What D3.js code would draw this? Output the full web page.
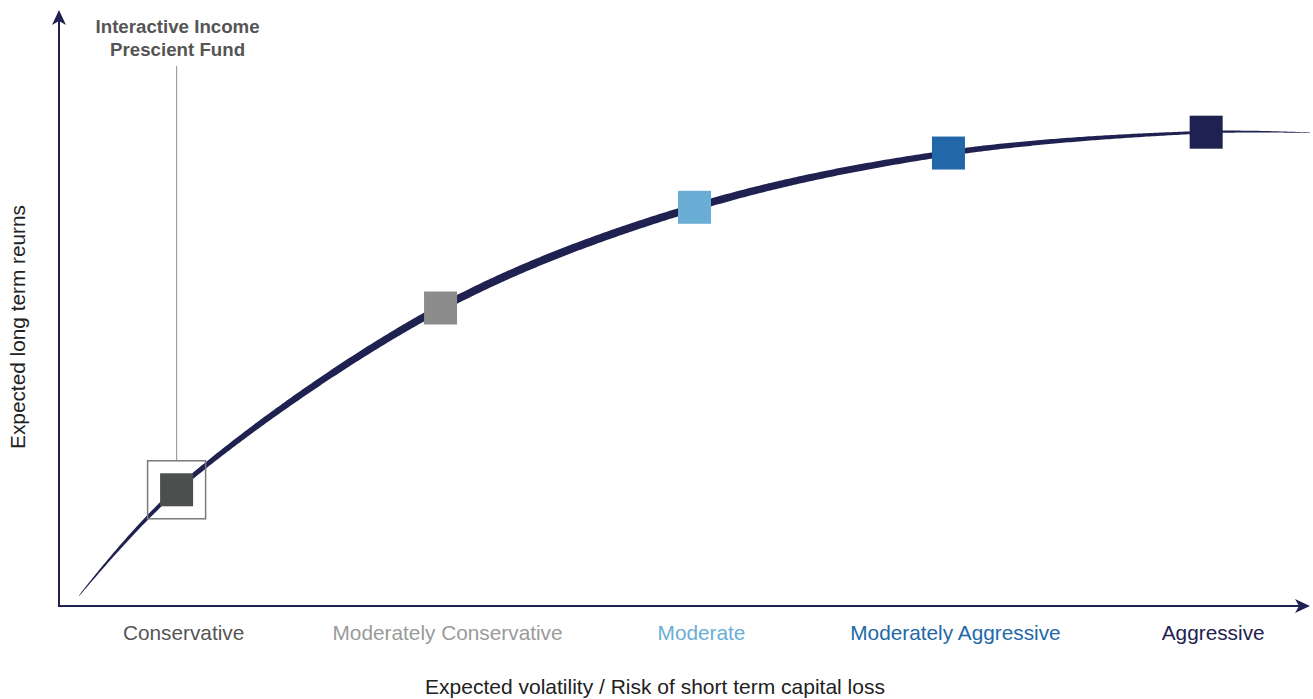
<!DOCTYPE html>
<html>
<head>
<meta charset="utf-8">
<script src="https://cdn.jsdelivr.net/npm/d3@7"></script>
<style>
  html, body { margin: 0; padding: 0; background: #ffffff; }
  svg { display: block; font-family: "Liberation Sans", Arial, sans-serif; }
</style>
</head>
<body>
<svg id="chart" width="1313" height="699"></svg>
<script>
// ---- data ----
const categories = ["Conservative", "Moderately Conservative", "Moderate", "Moderately Aggressive", "Aggressive"];
const categoryColors = ["#4d4f4f", "#8c8c8c", "#6aaed6", "#2268a8", "#1f2150"];
const labelColors = ["#555555", "#9a9a9a", "#6aaed6", "#2268a8", "#1f2150"];
const riskValues = [9.4, 30.5, 50.8, 71.1, 91.7];
const returnValues = [19.5, 50.0, 66.9, 76.0, 79.5];
const curveRisk = [1.6, 9.4, 30.5, 50.8, 71.1, 91.7, 100];
const curveReturn = [1.7, 19.5, 50.0, 66.9, 76.0, 79.5, 79.4];
const fundLabel = ["Interactive Income", "Prescient Fund"];
const highlightIndex = 0;
const xTitle = "Expected volatility / Risk of short term capital loss";
const yTitle = "Expected long term reurns";

// ---- layout ----
const svg = d3.select("#chart");
const x = d3.scaleLinear().domain([0, 100]).range([59, 1310]);
const y = d3.scaleLinear().domain([0, 100]).range([606, 10]);
const navy = "#1f2150";

// axes
svg.append("line").attr("x1", x(0)).attr("y1", y(0)).attr("x2", x(100) - 8).attr("y2", y(0))
  .attr("stroke", navy).attr("stroke-width", 2);
svg.append("line").attr("x1", x(0)).attr("y1", y(0) + 1).attr("x2", x(0)).attr("y2", y(100) + 8)
  .attr("stroke", navy).attr("stroke-width", 2);
// arrow heads
svg.append("path")
  .attr("d", `M${x(100)},${y(0)} L${x(100) - 15},${y(0) - 7} L${x(100) - 11},${y(0)} L${x(100) - 15},${y(0) + 7} Z`)
  .attr("fill", navy);
svg.append("path")
  .attr("d", `M${x(0)},${y(100)} L${x(0) - 7},${y(100) + 15} L${x(0)},${y(100) + 11} L${x(0) + 7},${y(100) + 15} Z`)
  .attr("fill", navy);

// tapered curve
const pts = curveRisk.map((r, i) => [x(r), y(curveReturn[i])]);
const lineGen = d3.line().curve(d3.curveCatmullRom.alpha(0.5));
const tmp = svg.append("path").attr("d", lineGen(pts)).attr("fill", "none").attr("stroke", "none");
const node = tmp.node();
const L = node.getTotalLength();
const N = 500;
const left = [], right = [];
for (let i = 0; i <= N; i++) {
  const t = i / N;
  const p = node.getPointAtLength(t * L);
  const p2 = node.getPointAtLength(Math.min(L, t * L + 0.5));
  const p1 = node.getPointAtLength(Math.max(0, t * L - 0.5));
  let dx = p2.x - p1.x, dy = p2.y - p1.y;
  const len = Math.hypot(dx, dy) || 1;
  dx /= len; dy /= len;
  const w = 0.2 + 3.8 * Math.pow(Math.sin(Math.PI * Math.pow(t, 0.85)), 0.8);
  left.push([p.x - dy * w, p.y + dx * w]);
  right.push([p.x + dy * w, p.y - dx * w]);
}
tmp.remove();
svg.append("path")
  .attr("d", d3.line()(left.concat(right.reverse())) + "Z")
  .attr("fill", navy);

// leader line and highlight box
const hx = x(riskValues[highlightIndex]), hy = y(returnValues[highlightIndex]);
svg.append("line").attr("x1", hx).attr("x2", hx).attr("y1", 66).attr("y2", hy - 29)
  .attr("stroke", "#a0a0a0").attr("stroke-width", 1.2);
svg.append("rect").attr("x", hx - 29).attr("y", hy - 29).attr("width", 58).attr("height", 58)
  .attr("fill", "none").attr("stroke", "#7a7a7a").attr("stroke-width", 1.5);

// markers
const size = 33;
svg.selectAll("rect.marker").data(categories).enter().append("rect")
  .attr("class", "marker")
  .attr("x", (d, i) => x(riskValues[i]) - size / 2)
  .attr("y", (d, i) => y(returnValues[i]) - size / 2)
  .attr("width", size).attr("height", size)
  .attr("fill", (d, i) => categoryColors[i]);

// category labels
svg.selectAll("text.cat").data(categories).enter().append("text")
  .attr("class", "cat")
  .attr("x", (d, i) => x(riskValues[i]) + 7)
  .attr("y", 640)
  .attr("text-anchor", "middle")
  .attr("font-size", 20.8)
  .attr("fill", (d, i) => labelColors[i])
  .text(d => d);

// fund label
svg.selectAll("text.fund").data(fundLabel).enter().append("text")
  .attr("class", "fund")
  .attr("x", hx + 1).attr("y", (d, i) => 33 + i * 23)
  .attr("text-anchor", "middle")
  .attr("font-size", 18.7).attr("font-weight", "bold")
  .attr("fill", "#555555")
  .text(d => d);

// axis titles
svg.append("text").attr("x", 655).attr("y", 694).attr("text-anchor", "middle")
  .attr("font-size", 21).attr("fill", "#222222").text(xTitle);
svg.append("text").attr("transform", "translate(25,327) rotate(-90)").attr("text-anchor", "middle")
  .attr("font-size", 20.8).attr("fill", "#222222").text(yTitle);
</script>
</body>
</html>
